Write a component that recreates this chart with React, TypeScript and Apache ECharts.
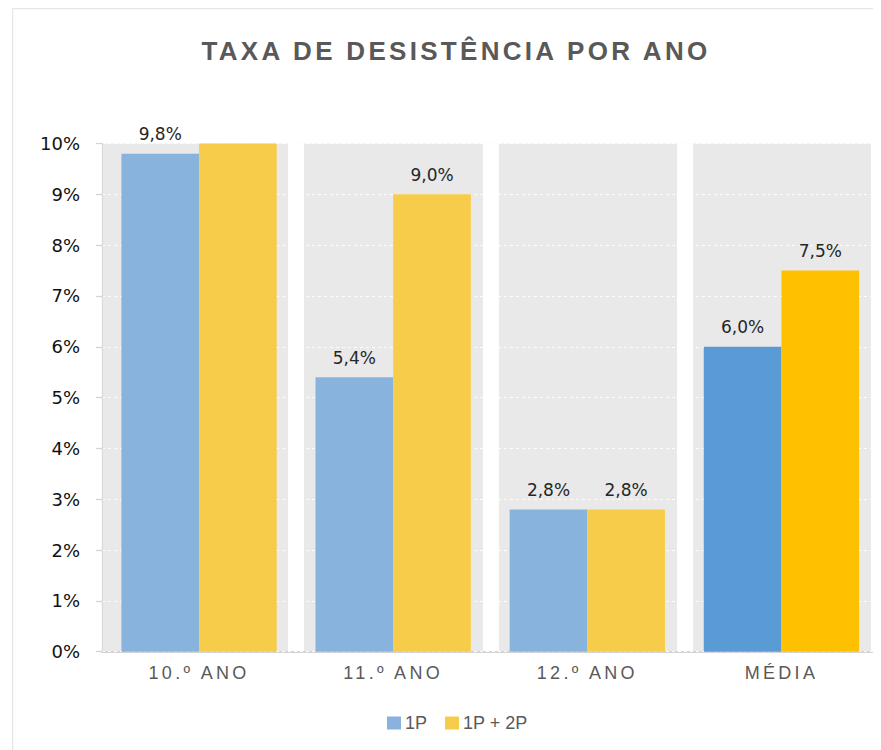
import React, { useEffect, useRef } from "react";
import * as echarts from "echarts";

const titleText = "TAXA DE DESISTÊNCIA POR ANO";
const categories = ["10.º ANO", "11.º ANO", "12.º ANO", "MÉDIA"];
const seriesNames = ["1P", "1P + 2P"];
const values1P = [9.8, 5.4, 2.8, 6.0];
const values1P2P = [10.2, 9.0, 2.8, 7.5];
const showLabel1P2P = [false, true, true, true];
const yTicks = [0, 1, 2, 3, 4, 5, 6, 7, 8, 9, 10];

const BLUE_LIGHT = "#87B3DD";
const BLUE_DARK = "#5B9BD5";
const YELLOW_LIGHT = "#F7CC4A";
const YELLOW_DARK = "#FFC000";

export default function App() {
  const ref = useRef<HTMLDivElement>(null);

  useEffect(() => {
    if (!ref.current) return;
    const chart = echarts.init(ref.current, null, { renderer: "svg" });
    const lastIdx = categories.length - 1;
    const fmt = (v: number) => v.toFixed(1).replace(".", ",") + "%";

    const labelStyle = {
      show: true,
      position: "top" as const,
      distance: 11,
      color: "#262626",
      fontSize: 17,
      fontFamily: "DejaVu Sans",
      formatter: (p: any) => fmt(p.value),
    };

    chart.setOption({
      animation: false,
      backgroundColor: "#ffffff",
      title: {
        text: titleText,
        left: 443,
        top: 25,
        textAlign: "center",
        textStyle: {
          fontFamily: "Liberation Sans",
          fontWeight: "bold",
          fontSize: 26,
          color: "#595959",
        },
      },
      graphic: [
        {
          type: "rect",
          silent: true,
          shape: { x: 4.6, y: 0.6, width: 2000, height: 2000 },
          style: { fill: "none", stroke: "#e6e6e6", lineWidth: 1.3 },
        },
      ],
      legend: {
        data: seriesNames,
        left: 374,
        top: 701,
        icon: "rect",
        itemWidth: 14,
        itemHeight: 13,
        itemGap: 18,
        textStyle: {
          fontFamily: "Liberation Sans",
          fontSize: 18,
          color: "#595959",
          padding: [0, 0, 0, -1],
        },
      },
      grid: { left: 94, right: 2.5, top: 135.5, bottom: 98.3 },
      xAxis: {
        type: "category",
        data: categories,
        z: 0,
        axisLine: { show: true, lineStyle: { color: "#d4d4d4", width: 2 } },
        axisTick: { show: false },
        axisLabel: {
          margin: 12,
          fontFamily: "Liberation Sans",
          fontSize: 18,
          color: "#595959",
        },
        splitArea: {
          show: true,
          areaStyle: { color: ["#e9e9e9", "#e9e9e9"] },
        },
        splitLine: {
          show: true,
          showMinLine: false,
          lineStyle: { color: "#ffffff", width: 16 },
        },
      },
      yAxis: {
        type: "value",
        min: yTicks[0],
        max: yTicks[yTicks.length - 1],
        interval: 1,
        z: 1,
        axisLine: { show: true, lineStyle: { color: "#dadada", width: 1.3 } },
        axisTick: {
          show: true,
          length: 6,
          lineStyle: { color: "#d4d4d4", width: 1.3 },
        },
        axisLabel: {
          margin: 22,
          fontFamily: "DejaVu Sans",
          fontSize: 18,
          color: "#111111",
          formatter: (v: number) => `${v}%`,
        },
        splitLine: {
          show: true,
          lineStyle: { color: "#ffffff", type: [3, 3], width: 1, opacity: 0.9 },
        },
      },
      series: [
        {
          name: seriesNames[0],
          type: "bar",
          barGap: "0%",
          barCategoryGap: "20%",
          itemStyle: { color: BLUE_LIGHT },
          label: labelStyle,
          data: values1P.map((v, i) => ({
            value: v,
            itemStyle: { color: i === lastIdx ? BLUE_DARK : BLUE_LIGHT },
          })),
        },
        {
          name: seriesNames[1],
          type: "bar",
          barGap: "0%",
          barCategoryGap: "20%",
          itemStyle: { color: YELLOW_LIGHT },
          label: labelStyle,
          data: values1P2P.map((v, i) => ({
            value: v,
            itemStyle: { color: i === lastIdx ? YELLOW_DARK : YELLOW_LIGHT },
            label: { show: showLabel1P2P[i] },
          })),
        },
      ],
    });

    const applySpacing = () => {
      if (!ref.current) return;
      ref.current.querySelectorAll("text").forEach((t) => {
        const s = t.textContent || "";
        if (s === titleText) t.setAttribute("letter-spacing", "3.3");
        else if (categories.includes(s)) t.setAttribute("letter-spacing", "3.3");
      });
    };
    applySpacing();
    chart.on("finished", applySpacing);

    return () => chart.dispose();
  }, []);

  return <div ref={ref} style={{ width: 873, height: 742 }} />;
}
